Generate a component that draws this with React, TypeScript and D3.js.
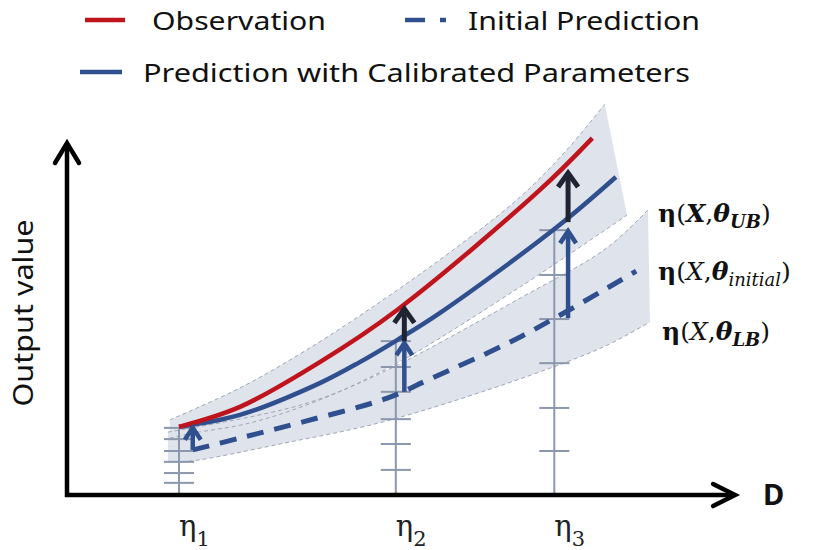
import React from 'react';
import * as d3 from 'd3';

const W = 818;
const H = 550;

// ---- data (D on x, output value on y; arbitrary schematic units) ----
const legendLabels = ['Observation', 'Initial Prediction', 'Prediction with Calibrated Parameters'];
const axisLabelY = 'Output value';
const axisLabelX = 'D';
const etaSubs = ['1', '2', '3'];
const etaD = [17.1, 50.2, 74.4];

const obsD = [17.1, 26.4, 38.6, 50.4, 72.2, 80.2];
const obsV = [18.9, 24.6, 37.4, 52.3, 86.6, 101.4];

const calD = [17.1, 26.4, 38.6, 44.7, 50.4, 56.9, 74.8, 83.8];
const calV = [18.9, 22.3, 31.4, 37.4, 43.7, 51.4, 76.0, 90.3];

const initD = [19.2, 26.4, 36.6, 48.9, 55.1, 69.2, 86.9];
const initV = [12.3, 15.7, 20.6, 27.1, 32.3, 44.6, 63.4];

// upper (calibrated) band
const ubTopD = [15.7, 26.4, 36.6, 48.2, 60.0, 69.2, 76.3, 82.1];
const ubTopV = [20.9, 30.0, 40.9, 55.1, 70.9, 84.6, 98.0, 111.1];
const ubBotD = [15.7, 19.2, 27.9, 38.6, 50.4, 69.2, 85.5];
const ubBotV = [15.7, 17.1, 20.0, 26.6, 37.1, 58.9, 79.4];

// lower (initial) band
const lbTopD = [15.4, 35.6, 47.3, 69.2, 82.4, 88.7];
const lbTopV = [17.4, 25.1, 33.7, 55.7, 70.0, 80.9];
const lbBotD = [15.4, 18.8, 32.5, 50.4, 80.9, 89.0];
const lbBotV = [8.9, 9.1, 14.0, 21.4, 40.9, 48.9];

// tick marks on the three vertical η lines
const ticksEta1 = [18.6, 15.4, 12.0, 8.9, 5.7, 2.9];
const ticksEta2 = [43.4, 36.0, 28.9, 21.1, 14.0, 6.6];
const ticksEta3 = [75.1, 62.3, 49.7, 37.1, 24.3, 12.0];
const tickSets = [ticksEta1, ticksEta2, ticksEta3];

// arrows (blue: initial -> calibrated, black: calibrated -> observation)
const blueArrowD = [19.2, 51.5, 76.5];
const blueArrowFrom = [12.3, 28.9, 50.0];
const blueArrowTo = [18.9, 43.1, 75.1];
const blackArrowD = [51.5, 76.5];
const blackArrowFrom = [43.4, 77.4];
const blackArrowTo = [52.9, 91.7];

const axisFloor = -0.6;
const axisTop = 100;
const axisRight = 102;

const RED = '#c0141d';
const BLUE = '#2f4f8e';
const DARK = '#1e2431';
const GREY = '#8b97ac';
const BAND = '#dfe3ec';
const EDGE = '#9ea6b6';

const zip = (a: number[], b: number[]) => a.map((v, i) => [v, b[i]] as [number, number]);

export default function App() {
  const x = d3.scaleLinear().domain([0, 100]).range([67, 722]);
  const y = d3.scaleLinear().domain([0, 100]).range([493, 143]);

  const line = d3
    .line<[number, number]>()
    .x((d) => x(d[0]))
    .y((d) => y(d[1]))
    .curve(d3.curveCatmullRom.alpha(0.5));

  const bandPath = (top: [number, number][], bot: [number, number][]) => {
    const a = line(top) as string;
    const b = line(bot.slice().reverse()) as string;
    return a + 'L' + b.slice(1) + 'Z';
  };

  const ub = bandPath(zip(ubTopD, ubTopV), zip(ubBotD, ubBotV));
  const lb = bandPath(zip(lbTopD, lbTopV), zip(lbBotD, lbBotV));

  const arrow = (xd: number, v0: number, v1: number, color: string, hw: number, hh: number, sw: number, key: string) => {
    const px = x(xd);
    const p0 = y(v0);
    const p1 = y(v1);
    return (
      <g key={key} stroke={color} strokeWidth={sw} fill="none" strokeLinecap="butt">
        <line x1={px} y1={p0} x2={px} y2={p1 + 2} />
        <path d={`M${px - hw},${p1 + hh}L${px},${p1 + 1}L${px + hw},${p1 + hh}`} strokeLinejoin="miter" />
      </g>
    );
  };

  const x0 = x(0);
  const yb = y(axisFloor);

  return (
    <svg width={W} height={H} viewBox={`0 0 ${W} ${H}`} style={{ display: 'block', position: 'absolute', left: 0, top: 0, background: '#fff' }}>
      {/* legend */}
      <g fontFamily="'Noto Sans', sans-serif" fontSize={26} fill="#111">
        <line x1={85} x2={125} y1={20} y2={20} stroke={RED} strokeWidth={4.5} />
        <text x={152} y={30} textLength={174} lengthAdjust="spacingAndGlyphs">{legendLabels[0]}</text>
        <line x1={405} x2={425} y1={20} y2={20} stroke={BLUE} strokeWidth={4.5} />
        <line x1={440} x2={446} y1={20} y2={20} stroke={BLUE} strokeWidth={4.5} />
        <text x={468} y={30} textLength={232} lengthAdjust="spacingAndGlyphs">{legendLabels[1]}</text>
        <line x1={80} x2={122} y1={72} y2={72} stroke={BLUE} strokeWidth={4.5} />
        <text x={143} y={82} textLength={547} lengthAdjust="spacingAndGlyphs">{legendLabels[2]}</text>
      </g>

      {/* bands */}
      <path d={lb} fill={BAND} />
      <path d={ub} fill={BAND} />
      <g fill="none" stroke={EDGE} strokeWidth={1} strokeDasharray="4 3">
        <path d={line(zip(ubTopD, ubTopV)) as string} />
        <path d={line(zip(ubBotD, ubBotV)) as string} />
        <path d={line(zip(lbTopD, lbTopV)) as string} />
        <path d={line(zip(lbBotD, lbBotV)) as string} />
      </g>

      {/* η verticals and ticks */}
      <g stroke={GREY} strokeWidth={2}>
        {etaD.map((e, i) => (
          <g key={'eta' + i}>
            <line x1={x(e)} x2={x(e)} y1={yb} y2={y(d3.max(tickSets[i]) as number)} />
            {tickSets[i].map((t, j) => (
              <line key={j} x1={x(e - 2.3)} x2={x(e + 2.3)} y1={y(t)} y2={y(t)} />
            ))}
          </g>
        ))}
      </g>

      {/* curves */}
      <path d={line(zip(initD, initV)) as string} fill="none" stroke={BLUE} strokeWidth={5} strokeDasharray="17 11" />
      <path d={line(zip(calD, calV)) as string} fill="none" stroke={BLUE} strokeWidth={4.5} />
      <path d={line(zip(obsD, obsV)) as string} fill="none" stroke={RED} strokeWidth={4.5} />

      {/* arrows */}
      {blueArrowD.map((d, i) => arrow(d, blueArrowFrom[i], blueArrowTo[i], BLUE, 8, 13, 4.5, 'b' + i))}
      {blackArrowD.map((d, i) => arrow(d, blackArrowFrom[i], blackArrowTo[i], DARK, 10, 15, 5, 'k' + i))}

      {/* axes */}
      <g stroke="#000" strokeWidth={4.5} fill="none">
        <line x1={x0} x2={x0} y1={yb + 2} y2={y(axisTop) + 2} />
        <line x1={x0 - 2} x2={x(axisRight) - 2} y1={yb} y2={yb} />
        <path d={`M${x0 - 12},${y(axisTop) + 20}L${x0},${y(axisTop)}L${x0 + 12},${y(axisTop) + 20}`} strokeLinejoin="miter" strokeLinecap="round" />
        <path d={`M${x(axisRight) - 22},${yb - 11}L${x(axisRight)},${yb}L${x(axisRight) - 22},${yb + 11}`} strokeLinejoin="miter" strokeLinecap="round" />
      </g>
      <text x={x(axisRight) + 28} y={505} fontFamily="'Noto Sans', sans-serif" fontWeight={700} fontSize={29} fill="#111">{axisLabelX}</text>
      <text transform={`translate(33,${313}) rotate(-90)`} textAnchor="middle" fontFamily="'Noto Sans', sans-serif" fontSize={27} fill="#111" textLength={187} lengthAdjust="spacingAndGlyphs">{axisLabelY}</text>

      {/* η labels */}
      {etaD.map((e, i) => (
        <text key={'el' + i} x={x(e)} y={536} fontFamily="'DejaVu Serif', serif" fontSize={29} fill="#222">
          η<tspan fontSize={21} dy={10}>{etaSubs[i]}</tspan>
        </text>
      ))}

      {/* bound labels */}
      <g fontFamily="'DejaVu Serif', serif" fontSize={25} fill="#111">
        <text x={658} y={222}>
          <tspan fontWeight={700}>η</tspan>(<tspan fontWeight={700} fontStyle="italic">X</tspan>,<tspan fontWeight={700} fontStyle="italic">θ</tspan>
          <tspan fontWeight={700} fontStyle="italic" fontSize={18} dy={6}>UB</tspan>
          <tspan dy={-6}>)</tspan>
        </text>
        <text x={658} y={280}>
          <tspan fontWeight={700}>η</tspan>(<tspan fontStyle="italic">X</tspan>,<tspan fontWeight={700} fontStyle="italic">θ</tspan>
          <tspan fontStyle="italic" fontSize={18} dy={6}>initial</tspan>
          <tspan dy={-6}>)</tspan>
        </text>
        <text x={662} y={340}>
          <tspan fontWeight={700}>η</tspan>(<tspan fontStyle="italic">X</tspan>,<tspan fontWeight={700} fontStyle="italic">θ</tspan>
          <tspan fontWeight={700} fontStyle="italic" fontSize={18} dy={6}>LB</tspan>
          <tspan dy={-6}>)</tspan>
        </text>
      </g>
    </svg>
  );
}
